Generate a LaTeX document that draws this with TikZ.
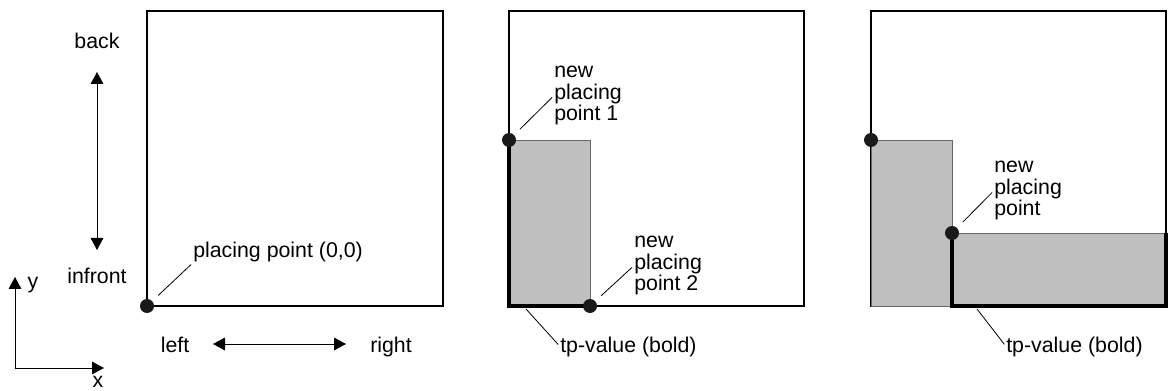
\documentclass[tikz,border=0pt]{standalone}
\usepackage{fontspec}
\setmainfont{Liberation Sans}
\usetikzlibrary{arrows.meta}

\begin{document}
\begin{tikzpicture}[x=0.75pt, y=-0.75pt,
        every node/.style={font=\fontsize{16}{16}\selectfont, inner sep=0},
        frame/.style={line width=1.1pt},
        block/.style={fill=black!25, draw=black!60, line width=0.6pt},
        tpline/.style={line width=3.2pt},
        dot/.style={circle, fill=black!90, inner sep=0, minimum size=10.5pt},
        leader/.style={line width=0.6pt},
        dirarrow/.style={line width=0.75pt, {Triangle[length=9pt,width=9.5pt]}-{Triangle[length=9pt,width=9.5pt]}}]
        \useasboundingbox (0,0) rectangle (1169,391);

        % coordinate system
        \coordinate (org) at (15,368);
        \coordinate (ax) at (104,368);
        \coordinate (ay) at (15,277);
        \draw[dirarrow] (ay) -- (org) -- (ax);
        \node (ylab) [anchor=base] at (33,289) {y};
        \node (xlab) [anchor=base] at (98,387) {x};

        % directions
        \coordinate (bk) at (97,72);
        \coordinate (fr) at (97,250);
        \coordinate (lf) at (213,344);
        \coordinate (rt) at (346,344);
        \draw[dirarrow] (bk) -- (fr);
        \draw[dirarrow] (lf) -- (rt);
        \node (back) [anchor=base] at (97,49) {back};
        \node (infront) [anchor=base] at (97,283) {infront};
        \node (left) [anchor=base] at (175,352) {left};
        \node (right) [anchor=base] at (391,352) {right};

        % first area
        \draw[frame] (147,11) rectangle (443,306);
        \node (p0) [dot] at (147,306) {};
        \node (p0lab) [anchor=base west] at (193,258) {placing point (0,0)};

        % second area
        \draw[frame] (509,11) rectangle (804,306);
        \draw[block] (509,140) rectangle (590,306);
        \draw[tpline] (509,140) -- (509,306) -- (590,306);
        \node (p1) [dot] at (509,140) {};
        \node (p2) [dot] at (590,306) {};
        \node (p1lab) [anchor=north west, align=left] at (554,66) {new\\placing\\point 1};
        \node (p2lab) [anchor=north west, align=left] at (634,236) {new\\placing\\point 2};
        \coordinate (tp2) at (526,309);
        \node (tp2lab) [anchor=base west] at (560,352) {tp-value (bold)};

        % third area
        \draw[frame] (871,11) rectangle (1166,306);
        \draw[block] (871,140) rectangle (952,306);
        \draw[block] (952,233) rectangle (1166,306);
        \draw[tpline] (952,233) -- (952,306) -- (1166,306) -- (1166,233);
        \node (p3) [dot] at (871,140) {};
        \node (p4) [dot] at (952,233) {};
        \node (p4lab) [anchor=north west, align=left] at (994,161) {new\\placing\\point};
        \coordinate (tp3) at (977,309);
        \node (tp3lab) [anchor=base west] at (1006,352) {tp-value (bold)};

        \draw[leader, shorten <=6pt, shorten >=2pt] (p0) -- (p0lab.south west);
        \draw[leader, shorten <=6pt, shorten >=2pt] (p1) -- (p1lab.west);
        \draw[leader, shorten <=6pt, shorten >=2pt] (p2) -- (p2lab.west);
        \draw[leader, shorten <=6pt, shorten >=2pt] (p4) -- (p4lab.west);
        \draw[leader, shorten >=2pt] (tp2) -- (tp2lab.west);
        \draw[leader, shorten >=2pt] (tp3) -- (tp3lab.west);
\end{tikzpicture}
\end{document}
